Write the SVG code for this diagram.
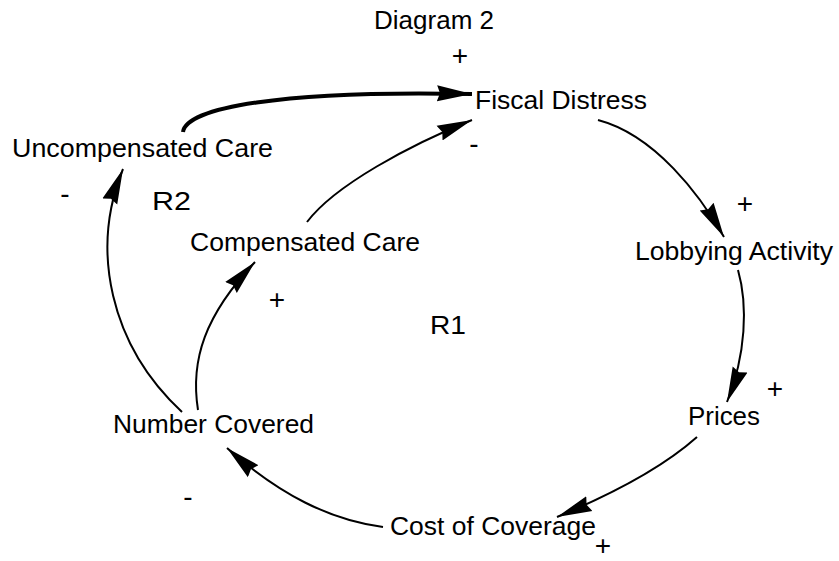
<svg xmlns="http://www.w3.org/2000/svg" width="839" height="561" viewBox="0 0 839 561">
<defs>
<style>
text{font-family:"Liberation Sans",Arial,sans-serif;font-size:25px;fill:#000}
.s{font-size:28px}
.c{fill:none;stroke:#000;stroke-width:2}
.thick{stroke-width:4}
</style>
<marker id="ah" markerUnits="userSpaceOnUse" markerWidth="36" markerHeight="18" refX="35" refY="8" orient="auto" viewBox="0 0 36 16">
<path d="M0,0 L35,8 L0,16 L3,8 Z" fill="#000"/>
</marker>
</defs>
<rect width="839" height="561" fill="#fff"/>
<g id="connectors">
<path class="c thick" d="M183,132 C186,108 280,90 472,94" marker-end="url(#ah)"/>
<path class="c" d="M307,222 C335,185 410,145 472,120" marker-end="url(#ah)"/>
<path class="c" d="M598,120 C655,135 700,195 724,237" marker-end="url(#ah)"/>
<path class="c" d="M738,270 C748,305 746,355 727,402" marker-end="url(#ah)"/>
<path class="c" d="M697,437 C660,470 610,495 557,517" marker-end="url(#ah)"/>
<path class="c" d="M383,527 C330,520 280,495 227,448" marker-end="url(#ah)"/>
<path class="c" d="M198,410 C190,360 205,315 255,262" marker-end="url(#ah)"/>
<path class="c" d="M182,412 C110,345 90,250 123,169" marker-end="url(#ah)"/>
</g>
<g id="title"><text x="374" y="29" textLength="120" lengthAdjust="spacingAndGlyphs">Diagram 2</text></g>
<g id="fiscal-distress"><text x="475" y="109" textLength="172" lengthAdjust="spacingAndGlyphs">Fiscal Distress</text></g>
<g id="uncompensated-care"><text x="12" y="157" textLength="261" lengthAdjust="spacingAndGlyphs">Uncompensated Care</text></g>
<g id="compensated-care"><text x="190" y="251" textLength="230" lengthAdjust="spacingAndGlyphs">Compensated Care</text></g>
<g id="lobbying-activity"><text x="635" y="260" textLength="198" lengthAdjust="spacingAndGlyphs">Lobbying Activity</text></g>
<g id="prices"><text x="688" y="425" textLength="72" lengthAdjust="spacingAndGlyphs">Prices</text></g>
<g id="number-covered"><text x="113" y="433" textLength="201" lengthAdjust="spacingAndGlyphs">Number Covered</text></g>
<g id="cost-of-coverage"><text x="390" y="535" textLength="206" lengthAdjust="spacingAndGlyphs">Cost of Coverage</text></g>
<g id="loop-labels">
<text x="152" y="210" textLength="39" lengthAdjust="spacingAndGlyphs">R2</text>
<text x="430" y="334" textLength="36" lengthAdjust="spacingAndGlyphs">R1</text>
</g>
<g id="polarities" text-anchor="middle">
<text class="s" x="460" y="65">+</text>
<text class="s" x="474" y="153">-</text>
<text class="s" x="65" y="203">-</text>
<text class="s" x="277" y="309">+</text>
<text class="s" x="745" y="213">+</text>
<text class="s" x="775" y="398">+</text>
<text class="s" x="188" y="506">-</text>
<text class="s" x="603" y="555">+</text>
</g>
</svg>
